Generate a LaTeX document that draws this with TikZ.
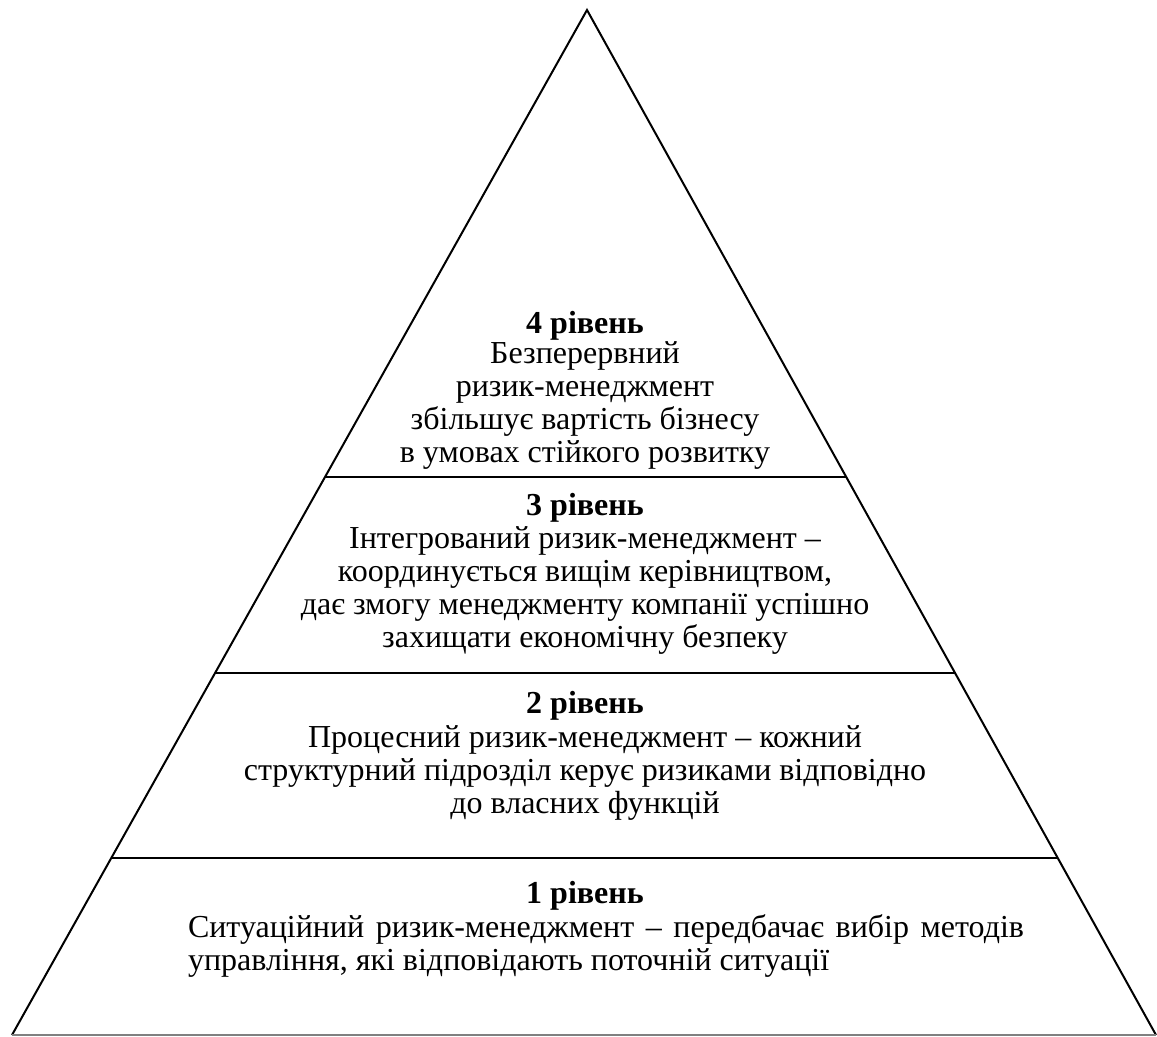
\documentclass[tikz,border=0pt]{standalone}
\usepackage{fontspec}
\setmainfont{Liberation Serif}
\usetikzlibrary{calc,positioning}

\begin{document}
\begin{tikzpicture}[x=0.5pt,y=-0.5pt,line width=1pt,
		every node/.style={inner sep=0pt,font=\fontsize{16pt}{16.5pt}\selectfont},
		level/.style={anchor=base,font=\fontsize{16pt}{16.5pt}\selectfont\bfseries},
		body/.style={anchor=base,align=center}]
	\useasboundingbox (0,0) rectangle (1157,1037);

	\coordinate	(top)	at (587,10);
	\coordinate	(bl)	at (12,1035);
	\coordinate	(br)	at (1156,1035);

	% borders between the levels
	\coordinate	(a1)	at ($(bl)!0.1727!(top)$);
	\coordinate	(b1)	at ($(br)!0.1727!(top)$);
	\coordinate	(a2)	at ($(bl)!0.3532!(top)$);
	\coordinate	(b2)	at ($(br)!0.3532!(top)$);
	\coordinate	(a3)	at ($(bl)!0.5444!(top)$);
	\coordinate	(b3)	at ($(br)!0.5444!(top)$);

	\draw	(bl) -- (top) -- (br);
	\draw	[gray]	(bl) -- (br);
	\draw	(a1) -- (b1);
	\draw	(a2) -- (b2);
	\draw	(a3) -- (b3);

	% 4 (base = last line)
	\node	[level]	(t4)	at (585,334)	{4 рівень};
	\node	[body]	(x4)	at (585,463)
		{Безперервний\\ризик-менеджмент\\збільшує вартість бізнесу\\в умовах стійкого розвитку};
	% 3
	\node	[level]	(t3)	at (585,516)	{3 рівень};
	\node	[body]	(x3)	at (585,647)
		{Інтегрований ризик-менеджмент –\\координується вищім керівництвом,\\дає змогу менеджменту компанії успішно\\захищати економічну безпеку};
	% 2
	\node	[level]	(t2)	at (585,713)	{2 рівень};
	\node	[body]	(x2)	at (585,813)
		{Процесний ризик-менеджмент – кожний\\структурний підрозділ керує ризиками відповідно\\до власних функцій};
	% 1
	\node	[level]	(t1)	at (585,903)	{1 рівень};
	\node	[anchor=base west,text width=418pt,align=justify]	(x1)	at (187,937)
		{Ситуаційний ризик-менеджмент – передбачає вибір методів\linebreak управління, які відповідають поточній ситуації};
\end{tikzpicture}
\end{document}
